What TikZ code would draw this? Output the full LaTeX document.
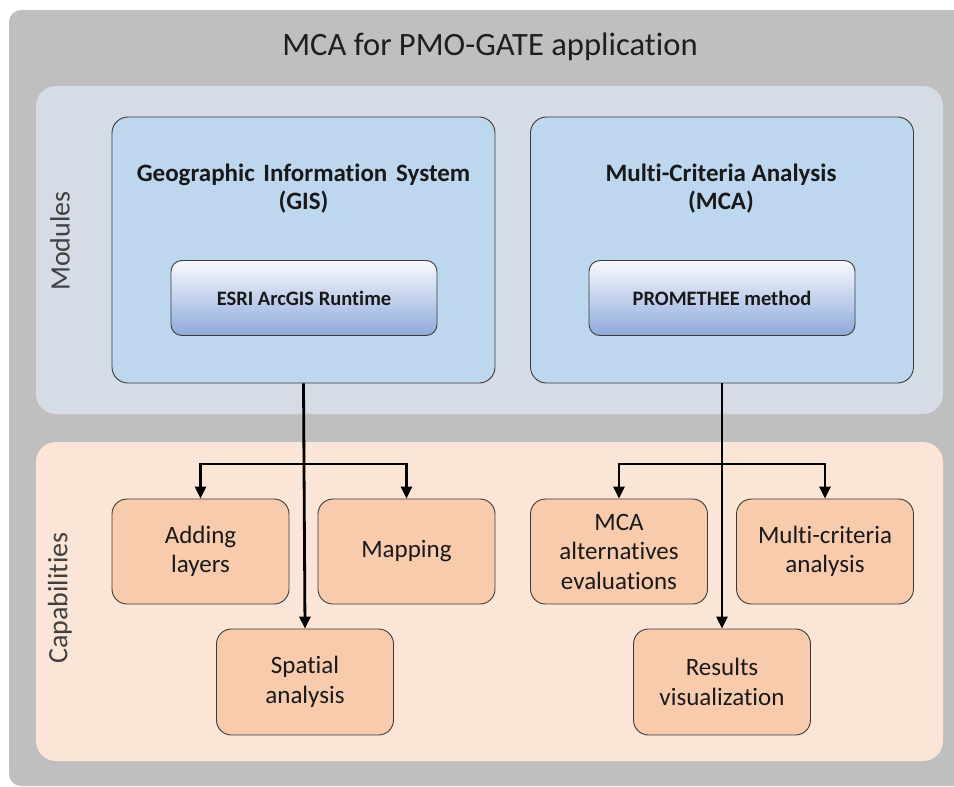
\documentclass[tikz,border=0pt]{standalone}
\usepackage{fontspec}
\setmainfont{Carlito}[Ligatures={NoCommon,NoRare}]
\usetikzlibrary{arrows.meta}
\definecolor{outergray}{HTML}{BFBFBF}
\definecolor{modband}{HTML}{D6DCE5}
\definecolor{capband}{HTML}{FBE5D6}
\definecolor{modbox}{HTML}{BDD7EE}
\definecolor{capbox}{HTML}{F8CBAD}
\definecolor{gradtop}{HTML}{F8F9FD}
\definecolor{gradbot}{HTML}{8EA9DB}
\definecolor{labgray}{HTML}{404040}
\definecolor{edgegray}{HTML}{3A3A3A}
\tikzset{
  bandbox/.style={rectangle, rounded corners=20pt, draw=none, minimum width=907pt, inner sep=0pt},
  modulebox/.style={rectangle, rounded corners=16pt, fill=modbox, draw=edgegray, line width=0.9pt, minimum width=383pt, minimum height=266pt, inner sep=0pt},
  modtitle/.style={font=\fontsize{25}{28}\bfseries\selectfont, align=center, text=black!90},
  methodbox/.style={rectangle, rounded corners=11pt, top color=gradtop, bottom color=gradbot, draw=edgegray, line width=0.9pt, minimum width=266pt, minimum height=75pt, font=\fontsize{20.5}{24}\bfseries\selectfont, text=black!90},
  capabox/.style={rectangle, rounded corners=15pt, fill=capbox, draw=edgegray, line width=0.9pt, minimum width=177pt, minimum height=105pt, align=center, font=\fontsize{25}{29.5}\selectfont, text=black!90},
  sidelabel/.style={rotate=90, font=\fontsize{28}{34}\selectfont, text=labgray},
  arr/.style={line width=2.8pt, -{Triangle[length=12pt,width=11pt]}}
}
\begin{document}
\begin{tikzpicture}[x=1pt,y=-1pt]
\useasboundingbox (0,0) rectangle (954,787);
\begin{scope}
\clip (0,0) rectangle (954,787);
\fill[outergray, rounded corners=12pt] (9,10) rectangle (1000,786);
\end{scope}
% bands
\node[bandbox, fill=modband, minimum height=328pt] (modband) at (489.5,250) {};
\node[bandbox, fill=capband, minimum height=319pt] (capband) at (489.5,601.5) {};
\node[sidelabel] (modlab) at (60,241) {Modules};
\node[sidelabel] (caplab) at (60,598) {Capabilities};
% title
\node[font=\fontsize{32.6}{38}\selectfont, text=black!88] (title) at (490,47) {MCA for PMO-GATE application};
% modules
\node[modulebox] (gis) at (303.5,250) {};
\node[modulebox] (mca) at (722,250) {};
\node[modtitle] (gistitle) at (303.5,189) {Geographic\hspace{0.35em}Information\hspace{0.35em}System\\(GIS)};
\node[modtitle] (mcatitle) at (721,189) {Multi-Criteria Analysis\\(MCA)};
\node[methodbox] (esri) at (304,298) {ESRI ArcGIS Runtime};
\node[methodbox] (prom) at (722,298) {PROMETHEE method};
% capabilities
\node[capabox] (add) at (200.5,551.5) {Adding\\layers};
\node[capabox] (map) at (406.5,551.5) {Mapping};
\node[capabox, minimum height=106pt] (spat) at (305,682) {Spatial\\analysis};
\node[capabox] (alt) at (619,551.5) {MCA\\alternatives\\evaluations};
\node[capabox] (mcrit) at (825,551.5) {Multi-criteria\\analysis};
\node[capabox, minimum height=106pt] (res) at (722,682) {Results\\visualization};
% junctions
\coordinate (jg) at (304,464);
\coordinate (jm) at (722,464);
% connectors
\draw[arr] (gis.south) -- (spat.north);
\draw[arr] (jg) -| (add.north);
\draw[arr] (jg) -| (map.north);
\draw[arr] (mca.south) -- (res.north);
\draw[arr] (jm) -| (alt.north);
\draw[arr] (jm) -| (mcrit.north);
\end{tikzpicture}
\end{document}
